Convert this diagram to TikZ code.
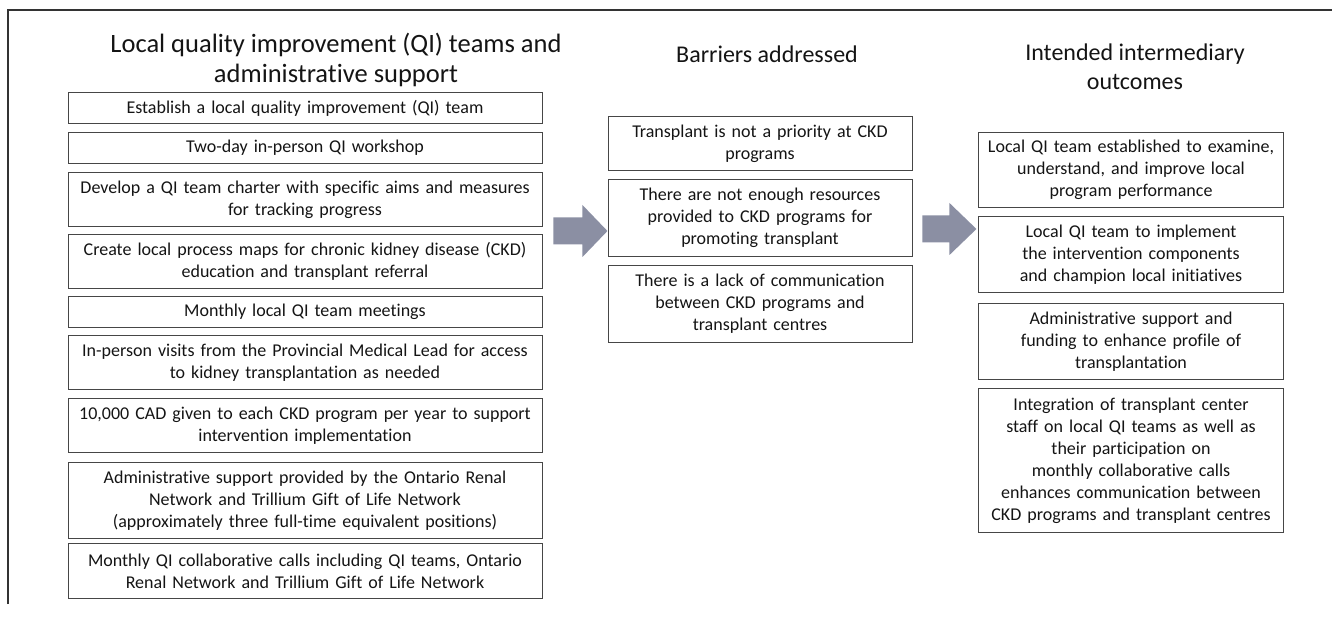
\documentclass[tikz,border=0pt]{standalone}
\usepackage{fontspec}
\setmainfont{Carlito}[Ligatures=NoCommon, RawFeature={-liga;-clig;-calt;-dlig}]
\usetikzlibrary{positioning,calc}

\definecolor{arrowgrey}{RGB}{139,143,163}
\definecolor{boxline}{RGB}{70,70,70}
\definecolor{inkgrey}{RGB}{20,20,20}

\tikzset{
    stepbox/.style={draw=boxline, line width=0.9pt, align=center, inner xsep=4pt, inner ysep=0pt,
        text=inkgrey, font=\fontsize{18}{22}\selectfont},
    colhead/.style={align=center, text=inkgrey, font=\fontsize{24}{29}\selectfont},
    blockarrow/.style={fill=arrowgrey}
}

\begin{document}
\begin{tikzpicture}[x=1pt, y=-1pt]

    \useasboundingbox (0,0) rectangle (1332,617);

    % Frame
    \draw[line width=1.4pt, black!80] (8,604) |- (1332,10);

    % Column headings
    \node[colhead, font=\fontsize{26.5}{30}\selectfont] (lhead) at (336,60) {Local quality improvement (QI) teams and\\administrative support};
    \node[colhead, anchor=base] (bhead) at (767,63) {Barriers addressed};
    \node[colhead] (ohead) at (1135,67) {Intended intermediary\\outcomes};

    % Interventions (left column)
    \foreach \n/\y/\h/\t in {
        1/92/31/{Establish a local quality improvement (QI) team},
        2/132/31/{Two-day in-person QI workshop},
        3/172/54/{Develop a QI team charter with specific aims and measures\\for tracking progress},
        4/234/54/{Create local process maps for chronic kidney disease (CKD)\\education and transplant referral},
        5/296/31/{Monthly local QI team meetings},
        6/335/54/{In-person visits from the Provincial Medical Lead for access\\to kidney transplantation as needed},
        7/398/54/{10,000 CAD given to each CKD program per year to support\\intervention implementation},
        8/462/76/{Administrative support provided by the Ontario Renal\\Network and Trillium Gift of Life Network\\(approximately three full-time equivalent positions)},
        9/543/55/{Monthly QI collaborative calls including QI teams, Ontario\\Renal Network and Trillium Gift of Life Network}
    }
        \node[stepbox, anchor=north, text width=466pt, minimum height=\h pt] (l\n) at (305,\y) {\t};

    % Barriers (middle column)
    \foreach \n/\y/\h/\t in {
        1/116/54/{Transplant is not a priority at CKD\\programs},
        2/179/77/{There are not enough resources\\provided to CKD programs for\\promoting transplant},
        3/265/77/{There is a lack of communication\\between CKD programs and\\transplant centres}
    }
        \node[stepbox, anchor=north, text width=296pt, minimum height=\h pt] (b\n) at (760,\y) {\t};

    % Outcomes (right column)
    \foreach \n/\y/\h/\t in {
        1/132/75/{Local QI team established to examine,\\understand, and improve local\\program performance},
        2/216/76/{Local QI team to implement\\the intervention components\\and champion local initiatives},
        3/303/76/{Administrative support and\\funding to enhance profile of\\transplantation},
        4/388/144/{Integration of transplant center\\staff on local QI teams as well as\\their participation on\\monthly collaborative calls\\enhances communication between\\CKD programs and transplant centres}
    }
        \node[stepbox, anchor=north, text width=297pt, minimum height=\h pt] (o\n) at (1131,\y) {\t};

    % Block arrows between the columns
    \coordinate (arrA) at ($(l1.east |- 0,231)+(11,0)$);
    \coordinate (arrB) at ($(b1.east |- 0,229)+(10,0)$);
    \foreach \s/\b/\h in {arrA/29/25, arrB/27/27}
        \fill[blockarrow] (\s) ++(0,-13.5) -- ++(\b,0) -- ++(0,-12.5) -- ++(\h,26)
            -- ++(-\h,26) -- ++(0,-12.5) -- ++(-\b,0) -- cycle;

\end{tikzpicture}
\end{document}
